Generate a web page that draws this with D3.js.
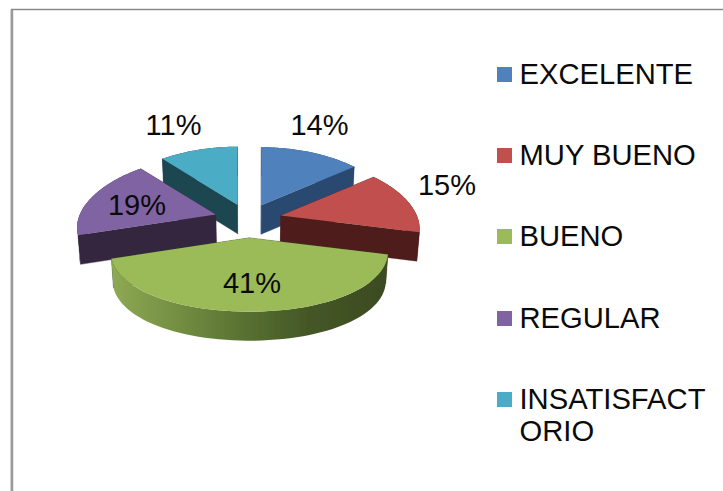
<!DOCTYPE html>
<html><head><meta charset="utf-8">
<script src="https://cdn.jsdelivr.net/npm/d3@7"></script>
<style>html,body{margin:0;padding:0;background:#fff}svg{display:block}text{font-family:"Liberation Sans",Arial,sans-serif;fill:#0a0a0a}</style>
</head><body><script>
const categories=["EXCELENTE","MUY BUENO","BUENO","REGULAR","INSATISFACTORIO"];
const legendLines=[["EXCELENTE"],["MUY BUENO"],["BUENO"],["REGULAR"],["INSATISFACT","ORIO"]];
const values=[14,15,41,19,11];
const topColors=["#4f81bd","#c0504d","#9bbb59","#8064a2","#4bacc6"];
const wallColors=["#2c4a70","#4f1f1e","#3f4f22","#35273f","#1f4651"];
const W=723,H=491,cx=248,cy=219,rx=136,ry=65,kx=0.2,ky=0.12,depth=29,taper=0.985,explode=[.24,.25,.28,.25,.24];
const labelPos=[[319.5,135],[447,195],[252,293],[137,215],[173.5,135]];

const svg=d3.select("body").append("svg").attr("width",W).attr("height",H);
const defs=svg.append("defs");
const grad=defs.append("linearGradient").attr("id","rim").attr("gradientUnits","userSpaceOnUse").attr("x1",110).attr("x2",388).attr("y1",0).attr("y2",0);
[[0,"#8fa955"],[.25,"#728e41"],[.5,"#566f30"],[.72,"#445626"],[1,"#3d4b20"]].forEach(([o,c])=>grad.append("stop").attr("offset",o).attr("stop-color",c));
const blur=defs.append("filter").attr("id","soft");blur.append("feGaussianBlur").attr("stdDeviation",.35);

svg.append("path").attr("d",`M${W},9.5H11.5V${H}`).attr("fill","none").attr("stroke","#8a8a8a").attr("stroke-width",1.5);
svg.append("path").attr("d",`M12,10V${H}`).attr("stroke","#9a9a9a").attr("stroke-width",2.5).attr("fill","none");

const arcs=d3.pie().sort(null).value(d=>d)(values);
const proj=(a,r)=>{const u=Math.sin(a)*r,v=Math.cos(a)*r;return [rx*u/(1+kx*v),-ry*v/(1+ky*v)];};
const slices=arcs.map((d,i)=>{
  const mid=(d.startAngle+d.endAngle)/2,o=proj(mid,explode[i]),ap=[cx+o[0],cy+o[1]];
  const pt=a=>{const p=proj(a,1);return [ap[0]+p[0],ap[1]+p[1]];};
  const rim=d3.range(0,61).map(j=>pt(d.startAngle+(d.endAngle-d.startAngle)*j/60));
  return {i,d,ap,rim};
});
const low=p=>[cx+(p[0]-cx)*taper,p[1]+depth];
const line=d3.line();
const g=svg.append("g").attr("filter","url(#soft)");
[4,0,1,3,2].forEach(i=>{
  const s=slices[i],n=s.rim.length-1;
  const wall=(a,b)=>g.append("path").attr("d",line([a,b,low(b),low(a)])+"Z").attr("fill",wallColors[i]).attr("stroke",wallColors[i]).attr("stroke-width",.4);
  wall(s.ap,s.rim[0]);wall(s.ap,s.rim[n]);
  g.append("path").attr("d",line([...s.rim,...s.rim.slice().reverse().map(low)])+"Z").attr("fill",i===2?"url(#rim)":wallColors[i]);
  g.append("path").attr("d",line([s.ap,...s.rim])+"Z").attr("fill",topColors[i]);
});

values.forEach((v,i)=>svg.append("text").attr("x",labelPos[i][0]).attr("y",labelPos[i][1]).attr("text-anchor","middle").attr("font-size",29).text(v+"%"));

const legY=[84,165,246,328,409];
categories.forEach((c,i)=>{
  svg.append("rect").attr("x",497).attr("y",legY[i]-17).attr("width",15).attr("height",15).attr("fill",topColors[i]);
  legendLines[i].forEach((t,j)=>svg.append("text").attr("x",519.5).attr("y",legY[i]+j*32).attr("font-size",29.2).text(t));
});
</script></body></html>
